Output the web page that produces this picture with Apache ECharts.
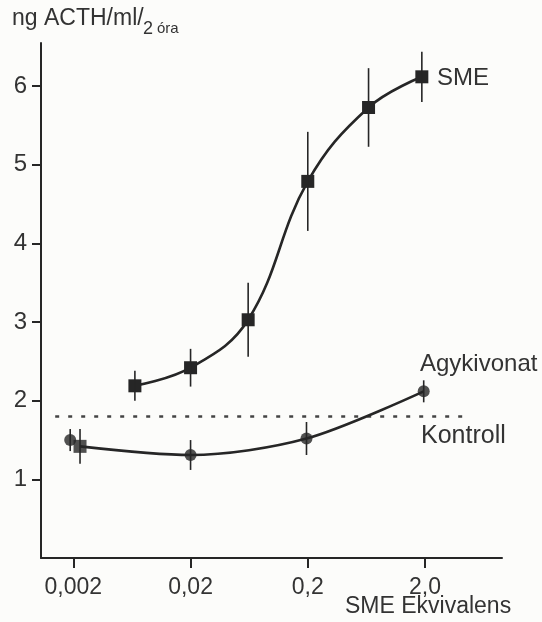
<!DOCTYPE html>
<html>
<head>
<meta charset="utf-8">
<style>
  html, body { margin: 0; padding: 0; background: #fcfcfa; }
  #main { width: 542px; height: 622px; }
</style>
<script src="https://cdn.jsdelivr.net/npm/echarts@6/dist/echarts.min.js"></script>
</head>
<body>
<div id="main"></div>
<script>
// x axis: SME equivalents, log scale
const tickValues = [0.002, 0.02, 0.2, 2.0];
const tickLabels = ['0,002', '0,02', '0,2', '2,0'];
const yTicks = [1, 2, 3, 4, 5, 6];

// SME curve (squares)
const smeDose = [0.0067, 0.02, 0.062, 0.2, 0.66, 1.88];
const smeValue = [2.19, 2.42, 3.03, 4.79, 5.73, 6.12];
const smeErr = [0.19, 0.24, 0.47, 0.63, 0.50, 0.32];

// Agykivonat (circles)
const agyDose = [0.00188, 0.02, 0.195, 1.95];
const agyValue = [1.50, 1.31, 1.52, 2.12];
const agyErr = [0.14, 0.19, 0.21, 0.14];

// square at the lowest dose
const lowDose = [0.00228];
const lowValue = [1.42];
const lowErr = [0.22];

// Kontroll level (dotted)
const kontrollDose = [0.0014, 4.4];
const kontrollValue = [1.80, 1.80];

const ink = '#262626';
const lg = v => Math.log10(v);

function points(dose, val) {
  return dose.map((d, i) => [lg(d), val[i]]);
}
function bars(dose, val, err) {
  return dose.map((d, i) => [lg(d), val[i] - err[i], val[i] + err[i]]);
}
// label for a log tick value
function tickName(v) {
  let best = 0;
  tickValues.forEach((t, i) => {
    if (Math.abs(lg(t) - v) < Math.abs(lg(tickValues[best]) - v)) best = i;
  });
  return tickLabels[best];
}

// lower curve starts at the square, then passes the circles
const lowerCurve = points(lowDose, lowValue).concat(points(agyDose, agyValue).slice(1));

function errRender(params, api) {
  const x = api.value(0);
  const a = api.coord([x, api.value(1)]);
  const b = api.coord([x, api.value(2)]);
  return {
    type: 'line',
    shape: { x1: a[0], y1: a[1], x2: b[0], y2: b[1] },
    style: { stroke: ink, lineWidth: 1.6 }
  };
}

const chart = echarts.init(document.getElementById('main'));
const font = 'Liberation Sans';

chart.setOption({
  backgroundColor: '#fcfcfa',
  animation: false,
  grid: { left: 41, right: 40, top: 43, bottom: 64 },
  xAxis: {
    type: 'value',
    min: lg(0.002) - 0.276,
    max: lg(2.0) + 0.657,
    axisLine: { onZero: false, lineStyle: { color: ink, width: 2 } },
    axisTick: { show: true, length: 10, customValues: tickValues.map(lg), lineStyle: { color: ink, width: 2 } },
    axisLabel: {
      customValues: tickValues.map(lg),
      formatter: tickName,
      margin: 18,
      fontFamily: font, fontSize: 23, color: '#333'
    },
    splitLine: { show: false }
  },
  yAxis: {
    type: 'value',
    min: 0,
    max: 6.55,
    axisLine: { show: true, onZero: false, lineStyle: { color: ink, width: 2 } },
    axisTick: { show: true, length: 9, customValues: yTicks, lineStyle: { color: ink, width: 2 } },
    axisLabel: {
      customValues: yTicks,
      margin: 14,
      fontFamily: font, fontSize: 24, color: '#333'
    },
    splitLine: { show: false }
  },
  series: [
    {
      name: 'Kontroll',
      type: 'line',
      data: points(kontrollDose, kontrollValue),
      symbol: 'none',
      lineStyle: { color: '#444', width: 2.5, type: [4, 9] }
    },
    {
      name: 'SME',
      type: 'line',
      data: points(smeDose, smeValue),
      smooth: 0.4,
      symbol: 'rect',
      symbolSize: 13,
      itemStyle: { color: ink },
      lineStyle: { color: ink, width: 2.6 }
    },
    {
      name: 'Agykivonat',
      type: 'line',
      data: lowerCurve,
      smooth: 0.3,
      symbol: 'none',
      lineStyle: { color: ink, width: 2.6 }
    },
    {
      type: 'scatter',
      data: points(agyDose, agyValue),
      symbol: 'circle',
      symbolSize: 12,
      itemStyle: { color: ink }
    },
    {
      type: 'scatter',
      data: points(lowDose, lowValue),
      symbol: 'rect',
      symbolSize: 13,
      itemStyle: { color: ink }
    },
    {
      type: 'custom',
      renderItem: errRender,
      encode: { x: 0, y: [1, 2] },
      data: bars(smeDose, smeValue, smeErr)
        .concat(bars(agyDose, agyValue, agyErr))
        .concat(bars(lowDose, lowValue, lowErr)),
      z: 5
    }
  ],
  graphic: [
    { type: 'text', left: 12, top: 7, style: { text: 'ng ACTH/ml/', font: '23px ' + font, fill: '#333' } },
    { type: 'text', left: 143, top: 20, style: { text: '2', font: '18px ' + font, fill: '#333' } },
    { type: 'text', left: 157, top: 21, style: { text: 'óra', font: '15px ' + font, fill: '#333' } },
    { type: 'text', left: 437, top: 66, style: { text: 'SME', font: '24px ' + font, fill: '#333' } },
    { type: 'text', left: 420, top: 352, style: { text: 'Agykivonat', font: '24px ' + font, fill: '#333' } },
    { type: 'text', left: 421, top: 424, style: { text: 'Kontroll', font: '25px ' + font, fill: '#333' } },
    { type: 'text', left: 345, top: 595, style: { text: 'SME Ekvivalens', font: '23px ' + font, fill: '#333' } }
  ]
});
</script>
</body>
</html>
